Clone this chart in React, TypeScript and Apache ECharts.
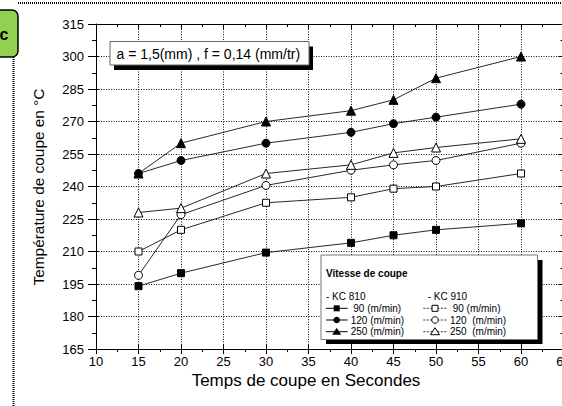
import React, { useEffect, useRef } from "react";
import * as echarts from "echarts";

// ---- data ----
const times = [15, 20, 30, 40, 45, 50, 60];
const kc810_90 = [194, 200, 209.5, 214, 217.5, 220, 223];
const kc810_120 = [246, 252, 260, 265, 269, 272, 278];
const kc810_250 = [246, 260, 270, 275, 280, 290, 300];
const kc910_90 = [210, 220, 232.5, 235, 239, 240, 246];
const kc910_120 = [199, 227, 240.5, 247.5, 250, 252, 260];
const kc910_250 = [228, 230, 246, 250, 255.5, 258, 262];

const xTitle = "Temps de coupe en Secondes";
const yTitle = "Température de coupe en °C";
const noteText = "a = 1,5(mm) , f = 0,14 (mm/tr)";
const legendTitle = "Vitesse de coupe";
const groupNames = ["- KC 810", "- KC 910"];
const legendLabels810 = ["90 (m/min)", "120 (m/min)", "250 (m/min)"];
const legendLabels910 = ["90 (m/min)", "120  (m/min)", "250  (m/min)"];

const FONT = "'Liberation Sans', Arial, Helvetica, sans-serif";

function mkSeries(name: string, vals: number[], symbol: string, filled: boolean, size: number) {
  return {
    type: "line",
    name,
    data: times.map((t, i) => [t, vals[i]]),
    symbol,
    symbolSize: size,
    showSymbol: true,
    showAllSymbol: true,
    silent: true,
    z: 3,
    lineStyle: { color: "#111", width: 0.9 },
    itemStyle: { color: filled ? "#000" : "#fff", borderColor: "#000", borderWidth: 1, opacity: 1 },
  };
}

export default function App() {
  const ref = useRef<HTMLDivElement>(null);
  useEffect(() => {
    if (!ref.current) return;
    const chart = echarts.init(ref.current, null, { renderer: "svg" });
    const axisLineStyle = { color: "#000", width: 1 };
    const xCommon = { type: "value", min: 10, max: 65, interval: 5 };
    const yCommon = { type: "value", min: 165, max: 315, interval: 15 };
    const Z = 100;

    const legendMarkers: any[] = [];
    const rowsY = [308.3, 320, 331.7];
    const c1 = 336.7;
    const c2 = 435;
    rowsY.forEach((ry, i) => {
      legendMarkers.push({ type: "line", z: Z + 2, silent: true, shape: { x1: 326, y1: ry, x2: 347.7, y2: ry }, style: { stroke: "#000", lineWidth: 1 } });
      legendMarkers.push({ type: "line", z: Z + 2, silent: true, shape: { x1: 423.3, y1: ry, x2: 446.7, y2: ry }, style: { stroke: "#000", lineWidth: 0.8, lineDash: [2, 1.5] } });
      legendMarkers.push({ type: "text", z: Z + 2, silent: true, x: i === 0 ? 353.3 : 350.7, y: ry, style: { text: legendLabels810[i], fontSize: 10, fontFamily: FONT, fill: "#000", align: "left", verticalAlign: "middle" } });
      legendMarkers.push({ type: "text", z: Z + 2, silent: true, x: i === 0 ? 452.7 : 450, y: ry, style: { text: legendLabels910[i], fontSize: 10, fontFamily: FONT, fill: "#000", align: "left", verticalAlign: "middle" } });
    });
    legendMarkers.push({ type: "rect", z: Z + 3, silent: true, shape: { x: c1 - 3, y: rowsY[0] - 3, width: 6, height: 6 }, style: { fill: "#000" } });
    legendMarkers.push({ type: "circle", z: Z + 3, silent: true, shape: { cx: c1, cy: rowsY[1], r: 3.3 }, style: { fill: "#000" } });
    legendMarkers.push({ type: "polygon", z: Z + 3, silent: true, shape: { points: [[c1, rowsY[2] - 4], [c1 + 4.5, rowsY[2] + 3], [c1 - 4.5, rowsY[2] + 3]] }, style: { fill: "#000" } });
    legendMarkers.push({ type: "rect", z: Z + 3, silent: true, shape: { x: c2 - 3, y: rowsY[0] - 3, width: 6, height: 6 }, style: { fill: "#fff", stroke: "#000", lineWidth: 1 } });
    legendMarkers.push({ type: "circle", z: Z + 3, silent: true, shape: { cx: c2, cy: rowsY[1], r: 3.3 }, style: { fill: "#fff", stroke: "#000", lineWidth: 1 } });
    legendMarkers.push({ type: "polygon", z: Z + 3, silent: true, shape: { points: [[c2, rowsY[2] - 4], [c2 + 4.5, rowsY[2] + 3], [c2 - 4.5, rowsY[2] + 3]] }, style: { fill: "#fff", stroke: "#000", lineWidth: 1 } });

    const option: any = {
      animation: false,
      backgroundColor: "#fff",
      textStyle: { fontFamily: FONT },
      grid: { left: 96, top: 24, width: 467.5, height: 325, containLabel: false, outerBoundsMode: "none" },
      xAxis: [
        {
          ...xCommon,
          position: "bottom",
          axisLine: { show: true, onZero: false, lineStyle: axisLineStyle },
          axisTick: { show: true, length: 5, lineStyle: axisLineStyle },
          minorTick: { show: true, splitNumber: 2, length: 3, lineStyle: axisLineStyle },
          axisLabel: { show: true, fontSize: 13, color: "#000", margin: 6, fontFamily: FONT, showMinLabel: true, showMaxLabel: true },
          splitLine: { show: true, lineStyle: { color: "#111", width: 1, type: [1, 1.5] } },
          minorSplitLine: { show: false },
        },
        {
          ...xCommon,
          position: "bottom",
          axisLine: { show: false, onZero: false },
          axisTick: { show: true, inside: true, length: 5, lineStyle: axisLineStyle },
          axisLabel: { show: false },
          splitLine: { show: false },
        },
        {
          ...xCommon,
          position: "top",
          axisLine: { show: true, onZero: false, lineStyle: axisLineStyle },
          axisTick: { show: true, inside: true, length: 5, lineStyle: axisLineStyle },
          minorTick: { show: true, splitNumber: 2, length: 3, lineStyle: axisLineStyle },
          axisLabel: { show: false },
          splitLine: { show: false },
        },
      ],
      yAxis: [
        {
          ...yCommon,
          position: "left",
          axisLine: { show: true, onZero: false, lineStyle: axisLineStyle },
          axisTick: { show: true, length: 8, lineStyle: axisLineStyle },
          minorTick: { show: true, splitNumber: 2, length: 4, lineStyle: axisLineStyle },
          axisLabel: { show: true, fontSize: 13, color: "#000", margin: 12, fontFamily: FONT, showMinLabel: true, showMaxLabel: true },
          splitLine: { show: true, lineStyle: { color: "#111", width: 1, type: [1, 1.5] } },
          minorSplitLine: { show: false },
        },
        {
          ...yCommon,
          position: "left",
          axisLine: { show: false, onZero: false },
          axisTick: { show: true, inside: true, length: 3, lineStyle: axisLineStyle },
          axisLabel: { show: false },
          splitLine: { show: false },
        },
        {
          ...yCommon,
          position: "right",
          axisLine: { show: true, onZero: false, lineStyle: axisLineStyle },
          axisTick: { show: true, inside: true, length: 5, lineStyle: axisLineStyle },
          minorTick: { show: true, splitNumber: 2, length: 3, lineStyle: axisLineStyle },
          axisLabel: { show: false },
          splitLine: { show: false },
        },
      ],
      series: [
        mkSeries("KC 810 90", kc810_90, "rect", true, 7),
        mkSeries("KC 810 120", kc810_120, "circle", true, 8),
        mkSeries("KC 810 250", kc810_250, "triangle", true, 9),
        mkSeries("KC 910 90", kc910_90, "rect", false, 7),
        mkSeries("KC 910 120", kc910_120, "circle", false, 8),
        mkSeries("KC 910 250", kc910_250, "triangle", false, 9),
      ],
      graphic: [
        { type: "line", silent: true, z: Z, shape: { x1: 18, y1: 3, x2: 562, y2: 3 }, style: { stroke: "#000", lineWidth: 2, lineDash: [1, 1] } },
        { type: "line", silent: true, z: Z, shape: { x1: 13.5, y1: 57, x2: 13.5, y2: 406 }, style: { stroke: "#000", lineWidth: 2, lineDash: [1, 1] } },
        { type: "rect", silent: true, z: Z, shape: { x: -12, y: 10, width: 30, height: 47, r: 6 }, style: { fill: "#92D050", stroke: "#000", lineWidth: 1.5 } },
        { type: "text", silent: true, z: Z + 1, x: 4, y: 34, style: { text: "c", font: `bold 16px ${FONT}`, fill: "#000", align: "center", verticalAlign: "middle" } },
        { type: "text", silent: true, z: Z, x: 38, y: 187, rotation: Math.PI / 2, style: { text: yTitle, fontSize: 15.4, fontFamily: FONT, fill: "#000", align: "center", verticalAlign: "middle" } },
        { type: "text", silent: true, z: Z, x: 306, y: 380, style: { text: xTitle, fontSize: 17, fontFamily: FONT, fill: "#000", align: "center", verticalAlign: "middle" } },
        { type: "rect", silent: true, z: Z, shape: { x: 114, y: 46.5, width: 199, height: 23.5 }, style: { fill: "#000" } },
        { type: "rect", silent: true, z: Z + 1, shape: { x: 110, y: 41.5, width: 199, height: 23.5 }, style: { fill: "#fff", stroke: "#666", lineWidth: 1 } },
        { type: "text", silent: true, z: Z + 2, x: 116.5, y: 53.5, style: { text: noteText, fontSize: 14, fontFamily: FONT, fill: "#000", align: "left", verticalAlign: "middle" } },
        { type: "rect", silent: true, z: Z, shape: { x: 326, y: 260, width: 216.5, height: 84 }, style: { fill: "#000" } },
        { type: "rect", silent: true, z: Z + 1, shape: { x: 321, y: 255, width: 216.5, height: 84.5 }, style: { fill: "#fff", stroke: "#777", lineWidth: 1 } },
        { type: "text", silent: true, z: Z + 2, x: 326, y: 273, style: { text: legendTitle, font: `bold 10px ${FONT}`, fill: "#000", align: "left", verticalAlign: "middle" } },
        { type: "text", silent: true, z: Z + 2, x: 326, y: 296.7, style: { text: groupNames[0], fontSize: 10, fontFamily: FONT, fill: "#000", align: "left", verticalAlign: "middle" } },
        { type: "text", silent: true, z: Z + 2, x: 427.7, y: 296.7, style: { text: groupNames[1], fontSize: 10, fontFamily: FONT, fill: "#000", align: "left", verticalAlign: "middle" } },
        ...legendMarkers,
      ],
    };
    chart.setOption(option);
    return () => chart.dispose();
  }, []);
  return (
    <div
      ref={ref}
      style={{ position: "absolute", left: 0, top: 0, width: 562, height: 406, background: "#fff" }}
    />
  );
}
